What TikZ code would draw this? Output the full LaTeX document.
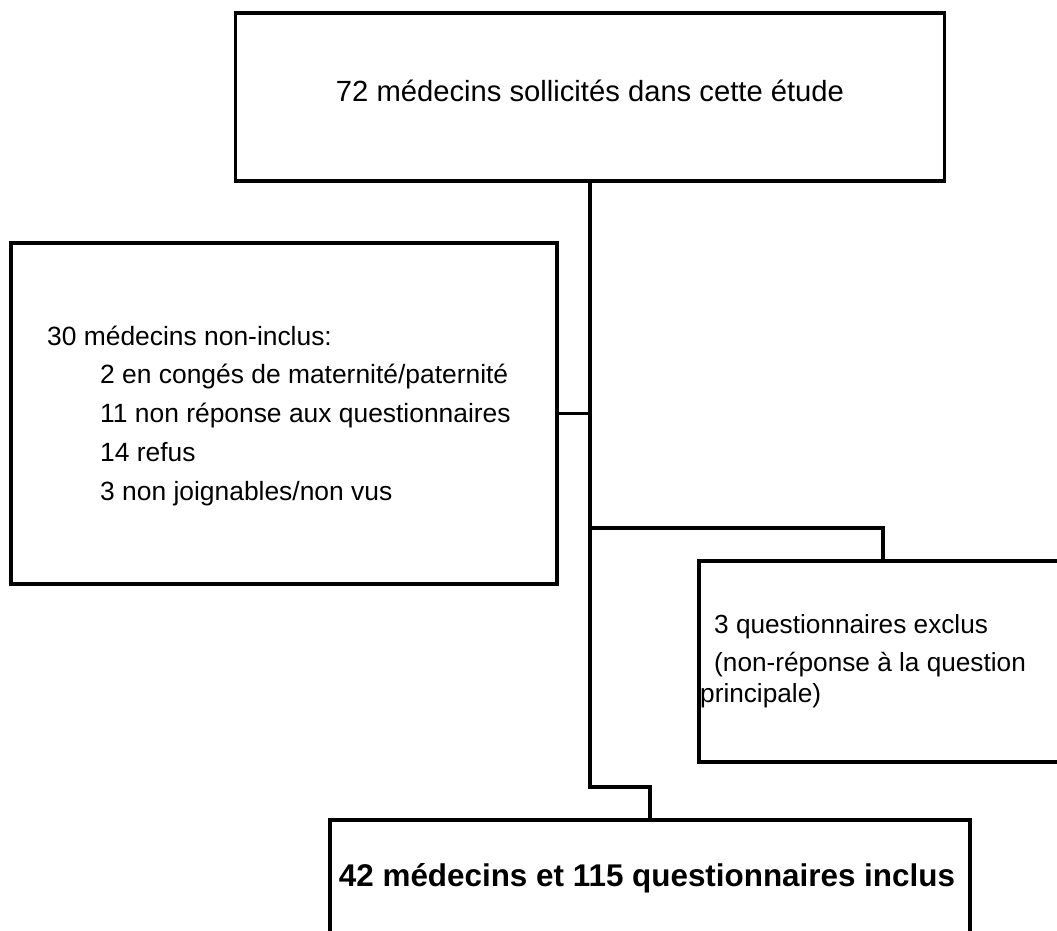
\documentclass[tikz,border=0pt]{standalone}
\usepackage{fontspec}
\setmainfont{Liberation Sans}

\tikzset{
  box/.style={draw,rectangle,line width=3.6pt,inner sep=0pt,outer sep=0pt},
  link/.style={line width=3.6pt},
  txt/.style={inner sep=0pt,align=left,anchor=base west,font=\fontsize{26.4}{38.8}\selectfont},
}

\begin{document}
\begin{tikzpicture}[x=1pt,y=-1pt,line join=miter]
\useasboundingbox (0,0) rectangle (1057,931);
\clip (0,0) rectangle (1057,931);
% boites
\node[box,minimum width=709,minimum height=168] (sollicites) at (590,97) {};
\node[box,minimum width=546,minimum height=341] (noninclus) at (284,413.5) {};
\node[box,minimum width=368,minimum height=201] (exclus) at (883,661.5) {};
\node[box,minimum width=640,minimum height=180] (inclus) at (650,910) {};
% textes (base = ligne du bas)
\node[txt,anchor=base,font=\fontsize{29.2}{34}\selectfont] (sollicitestxt) at (590,102) {72 médecins sollicités dans cette étude};
\node[txt] (noninclustxt) at (47,500.2) {30 médecins non-inclus:\\
  \hspace*{53pt}2 en congés de maternité/paternité\\
  \hspace*{53pt}11 non réponse aux questionnaires\\
  \hspace*{53pt}14 refus\\
  \hspace*{53pt}3 non joignables/non vus};
\node[txt,font=\fontsize{26.2}{31}\selectfont] (exclustxt) at (700,702) {\hspace*{14pt}3 questionnaires exclus\\[7pt]
  \hspace*{14pt}(non-réponse à la question\\
  principale)};
\node[txt,anchor=base,font=\bfseries\fontsize{31.4}{38}\selectfont] (inclustxt) at (647,886) {42 médecins et 115 questionnaires inclus};
% liens
\coordinate (branch) at (590,528);
\coordinate (jog) at (590,787);
\draw[link] (sollicites.south) -- (jog) -| (inclus.north);
\draw[link] (noninclus.east) -- (noninclus.east -| branch);
\draw[link] (branch) -| (exclus.north);
\end{tikzpicture}
\end{document}
